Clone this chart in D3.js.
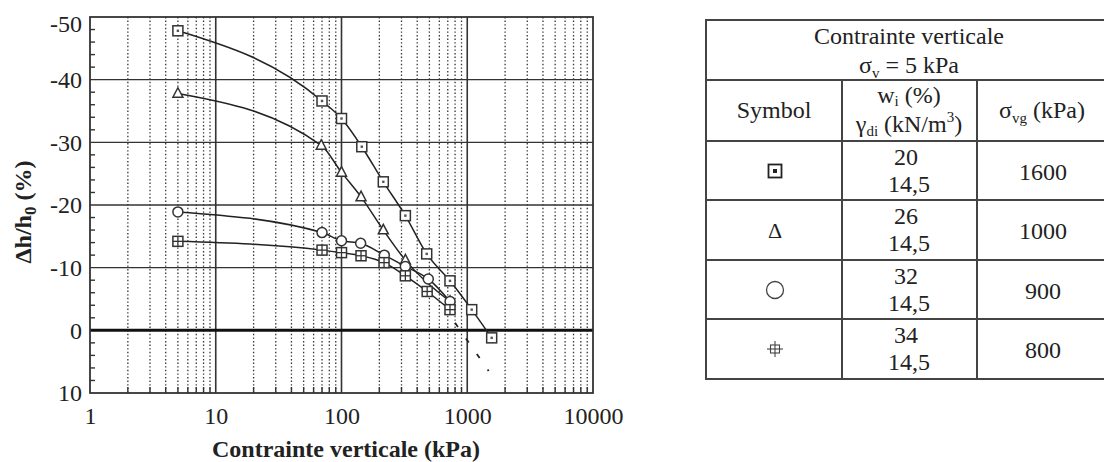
<!DOCTYPE html>
<html><head><meta charset="utf-8">
<script src="https://cdn.jsdelivr.net/npm/d3@7"></script>
<style>body{margin:0;background:#fff}svg{display:block}text{font-family:"Liberation Serif","Times New Roman",serif;fill:#222}</style>
</head><body><svg id="c" width="1104" height="462"></svg>
<script>
// ---- data ----
const xTickValues = [1, 10, 100, 1000, 10000];
const xTickLabels = ["1", "10", "100", "1000", "10000"];
const yTickValues = [-50, -40, -30, -20, -10, 0, 10];
const yTickLabels = ["-50", "-40", "-30", "-20", "-10", "0", "10"];

const sqX = [5, 70, 100, 145, 215, 322, 476, 729, 1085, 1564];
const sqY = [-47.8, -36.6, -33.8, -29.3, -23.7, -18.3, -12.2, -7.9, -3.3, 1.2];
const triX = [5, 69, 100, 143, 215, 322, 730];
const triY = [-37.8, -29.5, -25.2, -21.3, -16.0, -11.2, -4.6];
const cirX = [5, 70, 100, 142, 219, 322, 490, 730];
const cirY = [-18.9, -15.6, -14.3, -13.9, -12.0, -10.2, -8.2, -4.6];
const crX = [5, 70, 100, 143, 218, 322, 480, 729];
const crY = [-14.2, -12.8, -12.4, -11.9, -10.8, -8.7, -6.2, -3.3];
const dashX = [800, 1480];
const dashY = [-1.2, 6.5];

const tableW = ["20", "26", "32", "34"];
const tableGamma = ["14,5", "14,5", "14,5", "14,5"];
const tableSvg = ["1600", "1000", "900", "800"];
const tableSym = ["sqdot", "tri", "circle", "cross"];

// ---- chart ----
const svg = d3.select("#c");
const x = d3.scaleLog().domain([1, 10000]).range([90, 593]);
const y = d3.scaleLinear().domain([-50, 10]).range([17, 393]);
const g = svg.append("g");

const minors = [];
for (let d = 1; d < 10000; d *= 10) for (let k = 2; k <= 9; k++) minors.push(d * k);
g.selectAll(".mv").data(minors).enter().append("line")
  .attr("x1", d => x(d)).attr("x2", d => x(d)).attr("y1", y(-50)).attr("y2", y(10))
  .attr("stroke", "#333").attr("stroke-width", 1.3).attr("stroke-dasharray", "1.4,2.2");
g.selectAll(".Mv").data([10, 100, 1000]).enter().append("line")
  .attr("x1", d => x(d)).attr("x2", d => x(d)).attr("y1", y(-50)).attr("y2", y(10))
  .attr("stroke", "#333").attr("stroke-width", 1.6);
g.selectAll(".hg").data([-40, -30, -20, -10]).enter().append("line")
  .attr("x1", x(1)).attr("x2", x(10000)).attr("y1", d => y(d)).attr("y2", d => y(d))
  .attr("stroke", "#333").attr("stroke-width", 1.4);
g.append("line").attr("x1", x(1)).attr("x2", x(10000)).attr("y1", y(0)).attr("y2", y(0))
  .attr("stroke", "#111").attr("stroke-width", 3);

const yMinor = d3.range(-48, 10, 2).filter(v => v % 10 !== 0);
g.selectAll(".ymt").data(yMinor).enter().append("line")
  .attr("x1", x(1)).attr("x2", x(1) + 5).attr("y1", d => y(d)).attr("y2", d => y(d))
  .attr("stroke", "#333").attr("stroke-width", 1.4);
g.selectAll(".xmt").data(minors).enter().append("line")
  .attr("x1", d => x(d)).attr("x2", d => x(d)).attr("y1", y(10)).attr("y2", y(10) - 6)
  .attr("stroke", "#333").attr("stroke-width", 1.4);

g.append("rect").attr("x", x(1)).attr("y", y(-50)).attr("width", x(10000) - x(1)).attr("height", y(10) - y(-50))
  .attr("fill", "none").attr("stroke", "#333").attr("stroke-width", 1.8);

const xAxis = d3.axisBottom(x).tickValues(xTickValues).tickFormat((d, i) => xTickLabels[i]).tickSize(0).tickPadding(14);
const xa = svg.append("g").attr("transform", `translate(0,${y(10)})`).call(xAxis);
xa.select(".domain").remove();
xa.selectAll("text").attr("font-size", 24).attr("font-family", "Liberation Serif").attr("fill", "#222");
const yAxis = d3.axisLeft(y).tickValues(yTickValues).tickFormat((d, i) => yTickLabels[i]).tickSize(0).tickPadding(8);
const ya = svg.append("g").attr("transform", `translate(${x(1)},0)`).call(yAxis);
ya.select(".domain").remove();
ya.selectAll("text").attr("font-size", 24).attr("font-family", "Liberation Serif").attr("fill", "#222")
  .attr("transform", d => d === -50 ? "translate(0,7)" : null);

svg.append("text").attr("x", 346).attr("y", 457).attr("text-anchor", "middle")
  .attr("font-size", 24).attr("font-weight", "bold").text("Contrainte verticale (kPa)");
const yt = svg.append("text").attr("transform", "translate(31,212) rotate(-90)").attr("text-anchor", "middle")
  .attr("font-size", 24).attr("font-weight", "bold");
yt.append("tspan").text("Δh/h");
yt.append("tspan").attr("font-size", 17).attr("dy", 5).text("0");
yt.append("tspan").attr("dy", -5).text(" (%)");

const line = d3.line().x(d => x(d[0])).y(d => y(d[1])).curve(d3.curveMonotoneX);
const series = [
  { xs: sqX, ys: sqY, sym: "sqdot" },
  { xs: triX, ys: triY, sym: "tri" },
  { xs: cirX, ys: cirY, sym: "circle" },
  { xs: crX, ys: crY, sym: "cross" }
];
series.forEach(s => {
  const pts = s.xs.map((v, i) => [v, s.ys[i]]);
  g.append("path").attr("d", line(pts)).attr("fill", "none").attr("stroke", "#222").attr("stroke-width", 1.5);
});
g.append("path").attr("d", d3.line().x(d => x(d[0])).y(d => y(d[1]))(dashX.map((v, i) => [v, dashY[i]])))
  .attr("fill", "none").attr("stroke", "#222").attr("stroke-width", 1.8).attr("stroke-dasharray", "5,14");

function marker(sel, type, cx, cy, s) {
  const st = "#333";
  if (type === "sqdot") {
    sel.append("rect").attr("x", cx - s / 2).attr("y", cy - s / 2).attr("width", s).attr("height", s)
      .attr("fill", "#fff").attr("stroke", st).attr("stroke-width", 1.5);
    sel.append("rect").attr("x", cx - 1.2).attr("y", cy - 1.2).attr("width", 2.4).attr("height", 2.4).attr("fill", "#555");
  } else if (type === "tri") {
    const h = s * 0.95;
    sel.append("path").attr("d", `M${cx},${cy - h * 0.6}L${cx + s / 2},${cy + h * 0.4}L${cx - s / 2},${cy + h * 0.4}Z`)
      .attr("fill", "#fff").attr("stroke", st).attr("stroke-width", 1.5);
  } else if (type === "circle") {
    sel.append("circle").attr("cx", cx).attr("cy", cy).attr("r", s / 2)
      .attr("fill", "#fff").attr("stroke", st).attr("stroke-width", 1.5);
  } else if (type === "cross") {
    sel.append("rect").attr("x", cx - s / 2).attr("y", cy - s / 2).attr("width", s).attr("height", s)
      .attr("fill", "#fff").attr("stroke", st).attr("stroke-width", 1.5);
    sel.append("line").attr("x1", cx - s / 2).attr("x2", cx + s / 2).attr("y1", cy).attr("y2", cy).attr("stroke", st).attr("stroke-width", 1.3);
    sel.append("line").attr("x1", cx).attr("x2", cx).attr("y1", cy - s / 2).attr("y2", cy + s / 2).attr("stroke", st).attr("stroke-width", 1.3);
  }
}
series.forEach(s => {
  s.xs.forEach((v, i) => marker(g, s.sym, x(v), y(s.ys[i]), 10));
});

// ---- table ----
const T = svg.append("g");
const tl = 706, tr = 1104, c1 = 842, c2 = 977;
const rows = [20, 80, 141, 200, 260, 319, 379];
rows.forEach(r => T.append("line").attr("x1", tl).attr("x2", tr).attr("y1", r).attr("y2", r).attr("stroke", "#444").attr("stroke-width", 2));
T.append("line").attr("x1", tl).attr("x2", tl).attr("y1", 19).attr("y2", 380).attr("stroke", "#444").attr("stroke-width", 2);
[c1, c2].forEach(c => T.append("line").attr("x1", c).attr("x2", c).attr("y1", 80).attr("y2", 379).attr("stroke", "#444").attr("stroke-width", 2));

const fs = 24, sub = 15;
T.append("text").attr("x", 909).attr("y", 44).attr("text-anchor", "middle").attr("font-size", fs).text("Contrainte verticale");
const sv = T.append("text").attr("x", 909).attr("y", 73).attr("text-anchor", "middle").attr("font-size", fs);
sv.append("tspan").text("σ");
sv.append("tspan").attr("font-size", sub).attr("dy", 5).text("v");
sv.append("tspan").attr("dy", -5).text(" = 5 kPa");
T.append("text").attr("x", 774).attr("y", 118).attr("text-anchor", "middle").attr("font-size", fs).text("Symbol");
const wi = T.append("text").attr("x", 909).attr("y", 103).attr("text-anchor", "middle").attr("font-size", fs);
wi.append("tspan").text("w");
wi.append("tspan").attr("font-size", sub).attr("dy", 3).text("i");
wi.append("tspan").attr("dy", -3).text(" (%)");
const gd = T.append("text").attr("x", 909).attr("y", 132).attr("text-anchor", "middle").attr("font-size", fs);
gd.append("tspan").text("γ");
gd.append("tspan").attr("font-size", sub).attr("dy", 4).text("di");
gd.append("tspan").attr("dy", -4).text(" (kN/m");
gd.append("tspan").attr("font-size", sub).attr("dy", -10).text("3");
gd.append("tspan").attr("dy", 10).text(")");
const sg = T.append("text").attr("x", 1042).attr("y", 118).attr("text-anchor", "middle").attr("font-size", fs);
sg.append("tspan").text("σ");
sg.append("tspan").attr("font-size", sub).attr("dy", 5).text("vg");
sg.append("tspan").attr("dy", -5).text(" (kPa)");

tableW.forEach((w, i) => {
  const top = rows[i + 2];
  T.append("text").attr("x", 906).attr("y", top + 24).attr("text-anchor", "middle").attr("font-size", fs).text(w);
  T.append("text").attr("x", 909).attr("y", top + 51).attr("text-anchor", "middle").attr("font-size", fs).text(tableGamma[i]);
  T.append("text").attr("x", 1043).attr("y", top + 39).attr("text-anchor", "middle").attr("font-size", fs).text(tableSvg[i]);
  const cy = top + 30, cx = 775;
  const sym = tableSym[i];
  if (sym === "sqdot") {
    T.append("rect").attr("x", cx - 6.5).attr("y", cy - 6.5).attr("width", 13).attr("height", 13).attr("fill", "none").attr("stroke", "#222").attr("stroke-width", 1.8);
    T.append("rect").attr("x", cx - 2).attr("y", cy - 2).attr("width", 4).attr("height", 4).attr("fill", "#222");
  } else if (sym === "tri") {
    T.append("text").attr("x", cx).attr("y", cy + 8).attr("text-anchor", "middle").attr("font-size", 22).text("Δ");
  } else if (sym === "circle") {
    T.append("circle").attr("cx", cx).attr("cy", cy).attr("r", 8.5).attr("fill", "none").attr("stroke", "#444").attr("stroke-width", 1.3);
  } else {
    T.append("rect").attr("x", cx - 4.5).attr("y", cy - 4).attr("width", 9).attr("height", 8).attr("fill", "none").attr("stroke", "#444").attr("stroke-width", 1.1);
    T.append("line").attr("x1", cx - 8).attr("x2", cx + 8).attr("y1", cy).attr("y2", cy).attr("stroke", "#444").attr("stroke-width", 1.1);
    T.append("line").attr("x1", cx).attr("x2", cx).attr("y1", cy - 8).attr("y2", cy + 8).attr("stroke", "#444").attr("stroke-width", 1.1);
  }
});
</script></body></html>
